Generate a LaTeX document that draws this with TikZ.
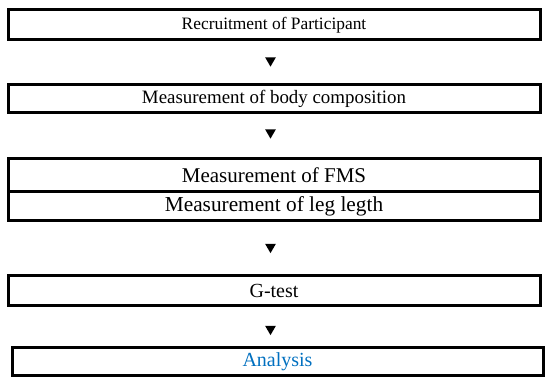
\documentclass[tikz,border=0pt]{standalone}
\usepackage{fontspec}
\setmainfont{Liberation Serif}
\usetikzlibrary{shapes.geometric}
\definecolor{wordblue}{RGB}{0,112,192}
\begin{document}
\begin{tikzpicture}[x=1pt,y=1pt,
  stepbox/.style={draw=black, line width=3pt, rectangle, inner sep=0pt, minimum width=532pt, align=center},
  tri/.style={regular polygon, regular polygon sides=3, shape border rotate=180, fill=black, draw=none, inner sep=0pt, minimum size=12.5pt}]
\useasboundingbox (0,0) rectangle (550,385);
\fill[white] (0,0) rectangle (550,385);
\node[stepbox, minimum height=30.5pt, font=\fontsize{17.4}{20}\selectfont] (b1) at (274,360.25) {Recruitment of Participant};
\node[stepbox, minimum height=28pt, font=\fontsize{18.9}{22}\selectfont] (b2) at (274,286) {Measurement of body composition};
\node[stepbox, minimum height=33pt, font=\fontsize{21}{24}\selectfont] (b3) at (274,209.5) {Measurement of FMS};
\node[stepbox, minimum height=29pt, font=\fontsize{21.3}{24}\selectfont] (b4) at (274,178.5) {Measurement of leg legth};
\node[stepbox, minimum height=30pt, font=\fontsize{20}{23}\selectfont] (b5) at (274,94) {G-test};
\node[stepbox, minimum width=531pt, minimum height=28pt, font=\fontsize{20}{23}\selectfont, text=wordblue] (b6) at (277.5,23) {Analysis};
\node[tri] (a1) at (270.5,324.6) {};
\node[tri] (a2) at (270.5,252.6) {};
\node[tri] (a3) at (270.5,138.1) {};
\node[tri] (a4) at (270.5,56.1) {};
\end{tikzpicture}
\end{document}
